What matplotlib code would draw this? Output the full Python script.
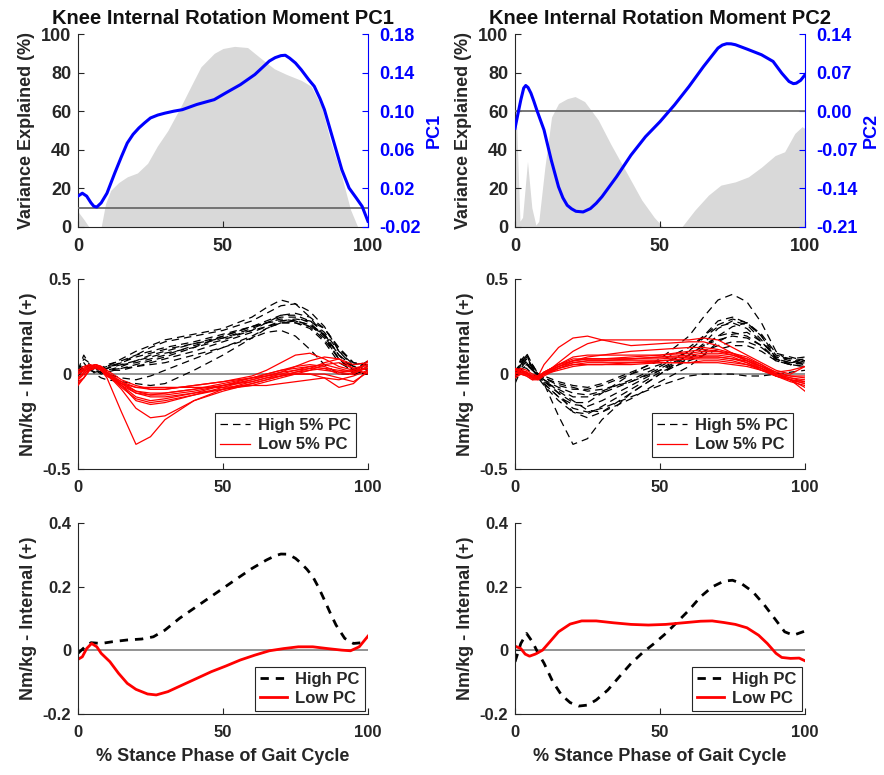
import matplotlib
matplotlib.use("Agg")
import matplotlib.pyplot as plt

plt.rcParams['font.family'] = ['Liberation Sans', 'DejaVu Sans']
plt.rcParams['font.weight'] = 'bold'
plt.rcParams['axes.labelweight'] = 'bold'
plt.rcParams['axes.titleweight'] = 'bold'
plt.rcParams['axes.unicode_minus'] = False

TXT = '#262626'

# ---- top row: variance explained (%) and PC loading vectors ----
var1_x = [0, 2, 3.8, 8, 9.5, 11.3, 14, 17, 20.5, 24, 27.4, 31, 35.5, 39, 42.4, 47, 50, 54, 58.5, 63, 67.7, 72, 77, 80.4, 84, 87, 91, 94, 96.5, 100]
var1_y = [8, 4, 0, 0, 12, 19, 23, 26, 28, 33, 42, 50, 62.5, 73, 83, 90, 92.5, 93.6, 93, 87.5, 82, 79, 76, 73, 62.5, 45, 26, 9, 0, 0]

pc1_x = [0, 1.5, 3, 4.5, 5.5, 6.5, 8, 10, 12.7, 15, 17, 19, 21, 23, 25, 27.5, 30, 33, 36, 41, 47, 51, 56, 61, 66, 68, 70, 71.5, 73, 75, 77, 79.5, 81.5, 83.5, 85, 88, 91, 93.5, 96, 98, 100]
pc1_y = [0.012, 0.015, 0.012, 0.005, 0.0014, 0.0007, 0.005, 0.015, 0.036, 0.053, 0.067, 0.076, 0.0826, 0.088, 0.093, 0.096, 0.098, 0.1, 0.1016, 0.107, 0.112, 0.119, 0.1275, 0.138, 0.152, 0.1555, 0.1576, 0.158, 0.155, 0.150, 0.143, 0.133, 0.1258, 0.113, 0.1016, 0.0705, 0.0394, 0.0204, 0.010, 0.0014, -0.014]

var2_x = [0, 0.6, 1.7, 2.6, 4.3, 5.8, 7.2, 8.2, 10.3, 12.6, 15, 18, 20.7, 24, 28.7, 33, 38, 43.7, 48, 51, 57.5, 62, 66.7, 71, 76, 80.5, 85, 89.7, 93, 96.5, 99, 100]
var2_y = [55, 52, 3, 5, 34, 10, 1, 3, 31, 57, 64, 66.5, 67.6, 65, 55.5, 43, 29.5, 14, 5, 0, 0, 8.7, 16.5, 21.7, 23.4, 26, 31, 37, 39, 48.5, 52, 51]

pc2_x = [0, 1, 2, 3, 3.7, 4.5, 5.5, 6.5, 7.5, 10, 12.5, 15, 16.5, 18, 19.5, 21, 23.5, 26, 28, 30, 35, 40, 45, 50, 55, 60, 65, 70, 71.5, 73, 74.5, 76, 80, 85, 89, 92, 94.5, 96, 97, 98.5, 100]
pc2_y = [-0.031, -0.005, 0.0205, 0.042, 0.0466, 0.043, 0.0326, 0.018, 0.0023, -0.034, -0.0887, -0.137, -0.157, -0.1706, -0.177, -0.1815, -0.1827, -0.1766, -0.167, -0.155, -0.119, -0.0796, -0.0462, -0.019, 0.0114, 0.0448, 0.081, 0.1145, 0.12, 0.1224, 0.1222, 0.1206, 0.1127, 0.1024, 0.0903, 0.069, 0.0539, 0.050, 0.0508, 0.056, 0.066]

# ---- middle row: individual trials, high / low 5% of PC scores ----
grid = [0, 2, 4, 6, 8, 10, 15, 20, 25, 30, 40, 50, 60, 65, 70, 75, 80, 85, 90, 95, 100]

high1 = [
    [0.0, 0.05, 0.03, 0.02, 0.03, 0.04, 0.08, 0.12, 0.15, 0.18, 0.21, 0.24, 0.30, 0.35, 0.39, 0.37, 0.30, 0.20, 0.08, 0.02, 0.03],
    [0.01, 0.08, 0.06, 0.03, 0.02, 0.03, 0.06, 0.10, 0.14, 0.17, 0.20, 0.23, 0.28, 0.32, 0.36, 0.37, 0.33, 0.25, 0.12, 0.04, 0.02],
    [0.0, 0.03, 0.05, 0.02, 0.01, 0.02, 0.04, 0.07, 0.10, 0.12, 0.16, 0.20, 0.25, 0.28, 0.31, 0.31, 0.28, 0.22, 0.12, 0.05, 0.06],
    [-0.01, 0.04, 0.02, 0.03, 0.03, 0.04, 0.05, 0.06, 0.08, 0.10, 0.15, 0.19, 0.24, 0.27, 0.30, 0.30, 0.27, 0.20, 0.10, 0.03, 0.04],
    [0.02, 0.10, 0.05, 0.02, 0.0, 0.01, 0.03, 0.05, 0.07, 0.09, 0.14, 0.20, 0.25, 0.27, 0.29, 0.28, 0.26, 0.21, 0.10, 0.02, 0.01],
    [0.0, 0.02, 0.04, 0.03, 0.02, 0.02, 0.02, 0.04, 0.06, 0.08, 0.12, 0.17, 0.22, 0.25, 0.28, 0.29, 0.28, 0.24, 0.14, 0.06, 0.04],
    [0.0, 0.03, 0.02, 0.01, 0.01, 0.02, 0.03, 0.04, 0.05, 0.06, 0.10, 0.14, 0.19, 0.22, 0.23, 0.20, 0.13, 0.05, 0.0, 0.0, 0.02],
    [0.0, 0.02, 0.03, 0.0, -0.02, -0.03, -0.04, -0.05, -0.06, -0.05, 0.02, 0.10, 0.19, 0.24, 0.27, 0.27, 0.25, 0.18, 0.08, 0.01, 0.0],
    [0.0, 0.04, 0.03, 0.02, 0.01, 0.0, -0.02, -0.03, -0.01, 0.02, 0.08, 0.14, 0.20, 0.24, 0.27, 0.28, 0.26, 0.19, 0.08, 0.0, 0.0],
    [0.01, 0.05, 0.03, 0.02, 0.03, 0.05, 0.07, 0.10, 0.12, 0.14, 0.17, 0.21, 0.25, 0.27, 0.28, 0.28, 0.25, 0.21, 0.10, 0.04, 0.05],
    [0.0, 0.03, 0.04, 0.03, 0.03, 0.04, 0.06, 0.09, 0.11, 0.13, 0.16, 0.19, 0.23, 0.25, 0.27, 0.27, 0.24, 0.17, 0.06, 0.02, 0.07],
    [0.0, 0.06, 0.02, 0.01, 0.02, 0.03, 0.05, 0.07, 0.09, 0.11, 0.14, 0.18, 0.23, 0.27, 0.31, 0.32, 0.30, 0.24, 0.13, 0.06, 0.05],
]
low1 = [
    [-0.02, 0.01, 0.04, 0.04, 0.02, -0.02, -0.20, -0.37, -0.33, -0.24, -0.14, -0.09, -0.05, -0.03, -0.01, 0.01, 0.02, 0.03, 0.02, 0.01, 0.03],
    [-0.04, -0.02, 0.02, 0.04, 0.03, 0.0, -0.08, -0.18, -0.23, -0.22, -0.14, -0.08, -0.04, -0.02, 0.0, 0.02, 0.04, 0.05, 0.03, 0.01, 0.04],
    [0.0, 0.02, 0.04, 0.05, 0.03, 0.01, -0.05, -0.10, -0.12, -0.12, -0.10, -0.08, -0.06, -0.04, -0.02, 0.0, 0.02, 0.05, 0.06, 0.03, 0.05],
    [0.0, 0.03, 0.05, 0.04, 0.02, 0.0, -0.04, -0.07, -0.08, -0.08, -0.06, -0.04, -0.01, 0.02, 0.06, 0.10, 0.11, 0.08, 0.04, 0.02, 0.03],
    [-0.05, -0.02, 0.02, 0.03, 0.02, -0.01, -0.06, -0.10, -0.11, -0.10, -0.08, -0.06, -0.04, -0.02, -0.01, 0.0, 0.0, -0.02, -0.07, -0.05, 0.02],
    [-0.03, 0.0, 0.03, 0.04, 0.03, 0.0, -0.07, -0.13, -0.15, -0.14, -0.11, -0.08, -0.05, -0.03, -0.01, 0.01, 0.03, 0.06, 0.08, 0.05, 0.06],
    [0.02, 0.04, 0.05, 0.04, 0.02, -0.01, -0.05, -0.07, -0.07, -0.07, -0.07, -0.07, -0.06, -0.06, -0.05, -0.04, -0.03, -0.02, -0.03, -0.01, 0.02],
    [-0.06, -0.02, 0.03, 0.05, 0.04, 0.01, -0.04, -0.09, -0.11, -0.11, -0.09, -0.06, -0.03, -0.01, 0.01, 0.04, 0.07, 0.09, 0.08, 0.03, 0.0],
    [0.0, 0.02, 0.04, 0.05, 0.04, 0.02, -0.03, -0.06, -0.08, -0.08, -0.06, -0.04, -0.02, -0.01, 0.0, 0.0, 0.0, 0.0, -0.02, -0.04, 0.01],
    [-0.02, 0.01, 0.04, 0.05, 0.04, 0.01, -0.06, -0.12, -0.14, -0.13, -0.10, -0.06, -0.02, 0.0, 0.02, 0.04, 0.05, 0.04, 0.01, 0.0, 0.07],
    [0.01, 0.03, 0.04, 0.04, 0.03, 0.0, -0.05, -0.09, -0.10, -0.10, -0.08, -0.05, -0.02, 0.0, 0.02, 0.03, 0.04, 0.03, 0.0, 0.0, 0.04],
    [-0.03, 0.0, 0.03, 0.04, 0.03, 0.01, -0.06, -0.14, -0.16, -0.15, -0.11, -0.07, -0.03, -0.01, 0.01, 0.02, 0.03, 0.02, 0.01, 0.02, 0.05],
]
high2 = [
    [-0.03, 0.05, 0.10, 0.05, 0.0, -0.05, -0.22, -0.37, -0.34, -0.24, -0.10, 0.0, 0.10, 0.15, 0.20, 0.22, 0.20, 0.15, 0.08, 0.05, 0.06],
    [0.0, 0.08, 0.06, 0.02, 0.0, -0.03, -0.10, -0.15, -0.15, -0.10, 0.0, 0.08, 0.20, 0.30, 0.39, 0.42, 0.38, 0.27, 0.12, 0.06, 0.07],
    [0.0, 0.04, 0.03, 0.0, -0.02, -0.05, -0.12, -0.18, -0.20, -0.18, -0.12, -0.06, -0.01, 0.0, 0.0, 0.0, -0.01, -0.01, 0.0, 0.01, 0.02],
    [0.01, 0.06, 0.09, 0.03, -0.01, -0.04, -0.10, -0.20, -0.23, -0.20, -0.10, 0.0, 0.08, 0.14, 0.20, 0.25, 0.27, 0.20, 0.08, 0.05, 0.07],
    [-0.02, 0.03, 0.07, 0.04, 0.0, -0.02, -0.06, -0.08, -0.08, -0.06, 0.0, 0.05, 0.12, 0.20, 0.28, 0.30, 0.27, 0.20, 0.10, 0.08, 0.09],
    [0.0, 0.05, 0.08, 0.03, -0.02, -0.05, -0.12, -0.16, -0.17, -0.14, -0.06, 0.02, 0.10, 0.16, 0.24, 0.28, 0.26, 0.18, 0.08, 0.06, 0.05],
    [-0.05, 0.02, 0.05, 0.02, -0.01, -0.04, -0.08, -0.12, -0.12, -0.10, -0.04, 0.03, 0.10, 0.15, 0.18, 0.20, 0.19, 0.15, 0.07, 0.05, 0.04],
    [0.0, 0.07, 0.11, 0.05, 0.0, -0.03, -0.09, -0.14, -0.19, -0.20, -0.13, -0.04, 0.04, 0.10, 0.17, 0.21, 0.22, 0.17, 0.09, 0.07, 0.08],
    [0.02, 0.05, 0.06, 0.02, -0.01, -0.03, -0.07, -0.10, -0.11, -0.09, -0.03, 0.04, 0.12, 0.19, 0.25, 0.27, 0.24, 0.17, 0.09, 0.08, 0.05],
    [-0.01, 0.04, 0.08, 0.04, 0.0, -0.02, -0.05, -0.07, -0.09, -0.08, -0.04, 0.02, 0.08, 0.12, 0.15, 0.17, 0.17, 0.14, 0.08, 0.06, 0.08],
    [0.0, 0.06, 0.10, 0.03, -0.02, -0.06, -0.14, -0.20, -0.21, -0.17, -0.08, 0.01, 0.07, 0.10, 0.13, 0.15, 0.15, 0.12, 0.07, 0.05, 0.04],
    [0.01, 0.03, 0.05, 0.02, 0.0, -0.01, -0.04, -0.06, -0.07, -0.05, 0.01, 0.07, 0.14, 0.20, 0.26, 0.29, 0.27, 0.21, 0.11, 0.09, 0.07],
]
low2 = [
    [0.02, 0.01, 0.0, -0.02, -0.01, 0.05, 0.14, 0.19, 0.20, 0.18, 0.15, 0.16, 0.17, 0.17, 0.15, 0.11, 0.07, 0.04, 0.0, -0.03, -0.05],
    [0.0, 0.02, 0.01, -0.02, -0.03, 0.0, 0.06, 0.12, 0.16, 0.18, 0.18, 0.18, 0.18, 0.19, 0.18, 0.14, 0.10, 0.06, 0.02, 0.0, 0.04],
    [0.03, 0.02, 0.0, -0.01, -0.01, 0.01, 0.04, 0.07, 0.09, 0.10, 0.12, 0.13, 0.14, 0.14, 0.13, 0.11, 0.08, 0.04, 0.0, -0.03, -0.04],
    [0.0, 0.01, 0.0, -0.02, -0.02, 0.0, 0.04, 0.07, 0.08, 0.08, 0.09, 0.10, 0.12, 0.13, 0.12, 0.10, 0.07, 0.03, -0.01, -0.04, -0.06],
    [0.02, 0.02, 0.01, -0.01, -0.02, 0.01, 0.05, 0.08, 0.08, 0.08, 0.08, 0.08, 0.09, 0.10, 0.10, 0.09, 0.06, 0.02, -0.01, -0.03, -0.09],
    [-0.01, 0.0, -0.01, -0.03, -0.03, -0.01, 0.03, 0.06, 0.07, 0.07, 0.07, 0.07, 0.08, 0.08, 0.08, 0.07, 0.05, 0.02, -0.01, -0.03, -0.05],
    [0.01, 0.01, 0.0, -0.02, -0.02, 0.0, 0.03, 0.05, 0.06, 0.06, 0.06, 0.06, 0.06, 0.07, 0.07, 0.06, 0.05, 0.03, 0.0, -0.02, -0.03],
    [0.02, 0.03, 0.02, 0.0, -0.01, 0.0, 0.04, 0.06, 0.07, 0.07, 0.08, 0.09, 0.10, 0.11, 0.11, 0.10, 0.08, 0.05, 0.01, -0.01, -0.02],
    [-0.02, 0.0, 0.0, -0.02, -0.02, 0.0, 0.03, 0.05, 0.05, 0.05, 0.05, 0.06, 0.06, 0.06, 0.06, 0.05, 0.04, 0.02, 0.0, -0.01, -0.01],
    [0.0, 0.02, 0.01, -0.01, -0.02, 0.01, 0.05, 0.09, 0.10, 0.10, 0.10, 0.10, 0.11, 0.12, 0.12, 0.11, 0.09, 0.05, 0.0, -0.02, -0.04],
    [0.01, 0.0, -0.01, -0.03, -0.02, 0.0, 0.02, 0.04, 0.05, 0.05, 0.06, 0.07, 0.08, 0.09, 0.09, 0.08, 0.07, 0.04, 0.01, 0.02, 0.04],
    [0.03, 0.02, 0.0, -0.02, -0.02, 0.01, 0.05, 0.07, 0.08, 0.08, 0.08, 0.09, 0.09, 0.09, 0.09, 0.08, 0.06, 0.03, -0.01, -0.03, -0.07],
]

# ---- bottom row: mean curves ----
mhigh1_x = [0, 2.5, 4.5, 8, 12, 17, 22, 26, 30, 35, 40, 45, 50, 55, 60, 65, 68, 70, 72, 73, 75, 77, 79, 81, 83, 85, 87, 89, 92, 95, 98]
mhigh1_y = [-0.009, 0.012, 0.0245, 0.022, 0.0276, 0.033, 0.036, 0.043, 0.064, 0.101, 0.1325, 0.164, 0.1955, 0.227, 0.258, 0.2846, 0.298, 0.3035, 0.303, 0.30, 0.29, 0.274, 0.255, 0.232, 0.198, 0.1587, 0.118, 0.08, 0.038, 0.022, 0.0245]
mlow1_x = [0, 1.5, 3, 4.7, 6.5, 8, 11, 14, 17, 20, 24, 27, 31, 36, 41, 46, 51, 56, 61, 66, 71, 76, 81, 86, 91, 94, 97, 100]
mlow1_y = [-0.028, -0.02, 0.006, 0.022, 0.0115, -0.009, -0.0353, -0.072, -0.1035, -0.1224, -0.137, -0.14, -0.1297, -0.1087, -0.0878, -0.0668, -0.049, -0.030, -0.0147, -0.001, 0.006, 0.0115, 0.0115, 0.006, 0.001, -0.001, 0.0115, 0.045]

mhigh2_x = [0, 2, 4, 6, 8, 10, 13, 16, 19, 22, 25, 28, 32, 36, 40, 44, 48, 52, 56, 60, 64, 68, 72, 75, 78, 82, 86, 90, 93, 96, 100]
mhigh2_y = [-0.0357, 0.022, 0.0535, 0.027, -0.009, -0.04, -0.098, -0.14, -0.164, -0.175, -0.172, -0.156, -0.1245, -0.0825, -0.041, -0.007, 0.022, 0.0535, 0.09, 0.127, 0.169, 0.20, 0.218, 0.221, 0.211, 0.185, 0.143, 0.095, 0.0587, 0.048, 0.061]
mlow2_x = [0, 2, 3.5, 5, 7, 9.5, 12, 15, 19, 23, 28, 34, 40, 46, 52, 58, 64, 68, 72, 76, 80, 84, 87, 90, 92, 95, 98, 100]
mlow2_y = [0.0136, 0.006, -0.0115, -0.018, -0.0115, 0.001, 0.027, 0.0587, 0.083, 0.093, 0.093, 0.087, 0.082, 0.080, 0.082, 0.087, 0.092, 0.093, 0.088, 0.082, 0.0713, 0.048, 0.022, -0.009, -0.022, -0.025, -0.024, -0.0325]

titles = ['Knee Internal Rotation Moment PC1', 'Knee Internal Rotation Moment PC2']


def style(ax, size):
    for s in ['top', 'right']:
        ax.spines[s].set_visible(False)
    for s in ['left', 'bottom']:
        ax.spines[s].set_color(TXT)
        ax.spines[s].set_linewidth(0.8)
    ax.tick_params(direction='in', length=4, width=0.8, colors=TXT, labelsize=size)
    ax.tick_params(axis='y', pad=5)
    ax.tick_params(axis='x', pad=8)
    ax.set_xlim(0, 100)
    ax.set_xticks([0, 50, 100])


def legend(ax, pad, hl):
    leg = ax.legend(loc='lower right', fontsize=12, fancybox=False, framealpha=1,
                    edgecolor='#262626', borderaxespad=pad, handlelength=hl,
                    borderpad=0.3, labelspacing=0.25, handletextpad=0.5)
    leg.get_frame().set_linewidth(0.8)
    for t in leg.get_texts():
        t.set_color(TXT)


fig = plt.figure(figsize=(8.84, 7.75), dpi=100)
lefts = [0.0882, 0.5826]
w = 0.328

for col in range(2):
    # top row
    ax = fig.add_axes([lefts[col], 0.7071, w, 0.249])
    style(ax, 13)
    vx, vy = (var1_x, var1_y) if col == 0 else (var2_x, var2_y)
    ax.fill_between(vx, 0, vy, color='#d9d9d9', lw=0)
    ax.set_ylim(0, 100)
    ax.set_yticks([0, 20, 40, 60, 80, 100])
    ax.set_ylabel('Variance Explained (%)', fontsize=13, color=TXT, labelpad=4)
    ax.set_title(titles[col], fontsize=14.5, color='#111111', pad=7)

    ax2 = ax.twinx()
    for s in ['top', 'left', 'bottom']:
        ax2.spines[s].set_visible(False)
    ax2.spines['right'].set_color('#0000ff')
    ax2.spines['right'].set_linewidth(0.8)
    ax2.tick_params(direction='in', length=4, width=0.8, colors='#0000ff', labelsize=13, pad=8)
    if col == 0:
        ax2.set_ylim(-0.02, 0.18)
        ticks = [-0.02, 0.02, 0.06, 0.10, 0.14, 0.18]
        px, py = pc1_x, pc1_y
    else:
        ax2.set_ylim(-0.21, 0.14)
        ticks = [-0.21, -0.14, -0.07, 0.0, 0.07, 0.14]
        px, py = pc2_x, pc2_y
    ax2.set_yticks(ticks)
    ax2.set_yticklabels(['%.2f' % t for t in ticks])
    ax2.axhline(0, color='#6b6b6b', lw=1.3)
    ax2.plot(px, py, color='#0000ff', lw=2.2, solid_joinstyle='round')
    ax2.set_ylabel('PC%d' % (col + 1), fontsize=13, color='#0000ff', labelpad=4)
    ax2.set_xlim(0, 100)

    # middle row
    ax = fig.add_axes([lefts[col], 0.3948, w, 0.245])
    style(ax, 12)
    ax.set_ylim(-0.5, 0.5)
    ax.set_yticks([-0.5, 0, 0.5])
    ax.set_yticklabels(['-0.5', '0', '0.5'])
    ax.axhline(0, color='#808080', lw=1.2, zorder=1)
    hi, lo = (high1, low1) if col == 0 else (high2, low2)
    for i, c in enumerate(hi):
        ax.plot(grid, c, color='black', lw=0.9, dashes=(6, 4),
                label='High 5% PC' if i == 0 else None, zorder=2)
    for i, c in enumerate(lo):
        ax.plot(grid, c, color='#ff0000', lw=0.9, solid_joinstyle='round',
                label='Low 5% PC' if i == 0 else None, zorder=3)
    ax.set_ylabel('Nm/kg - Internal (+)', fontsize=13, color=TXT, labelpad=4)
    legend(ax, 0.7, 1.8)

    # bottom row
    ax = fig.add_axes([lefts[col], 0.0787, w, 0.246])
    style(ax, 12)
    ax.set_ylim(-0.2, 0.4)
    ax.set_yticks([-0.2, 0, 0.2, 0.4])
    ax.set_yticklabels(['-0.2', '0', '0.2', '0.4'])
    ax.axhline(0, color='#808080', lw=1.2, zorder=1)
    if col == 0:
        hx, hy, lx, ly = mhigh1_x, mhigh1_y, mlow1_x, mlow1_y
    else:
        hx, hy, lx, ly = mhigh2_x, mhigh2_y, mlow2_x, mlow2_y
    ax.plot(hx, hy, color='black', lw=2, dashes=(3, 2.5), label='High PC')
    ax.plot(lx, ly, color='#ff0000', lw=2, label='Low PC', solid_joinstyle='round')
    ax.set_ylabel('Nm/kg - Internal (+)', fontsize=13, color=TXT, labelpad=4)
    ax.set_xlabel('% Stance Phase of Gait Cycle', fontsize=13, color=TXT, labelpad=6)
    legend(ax, 0.2, 1.6)

fig.savefig('out.png', dpi=100)
